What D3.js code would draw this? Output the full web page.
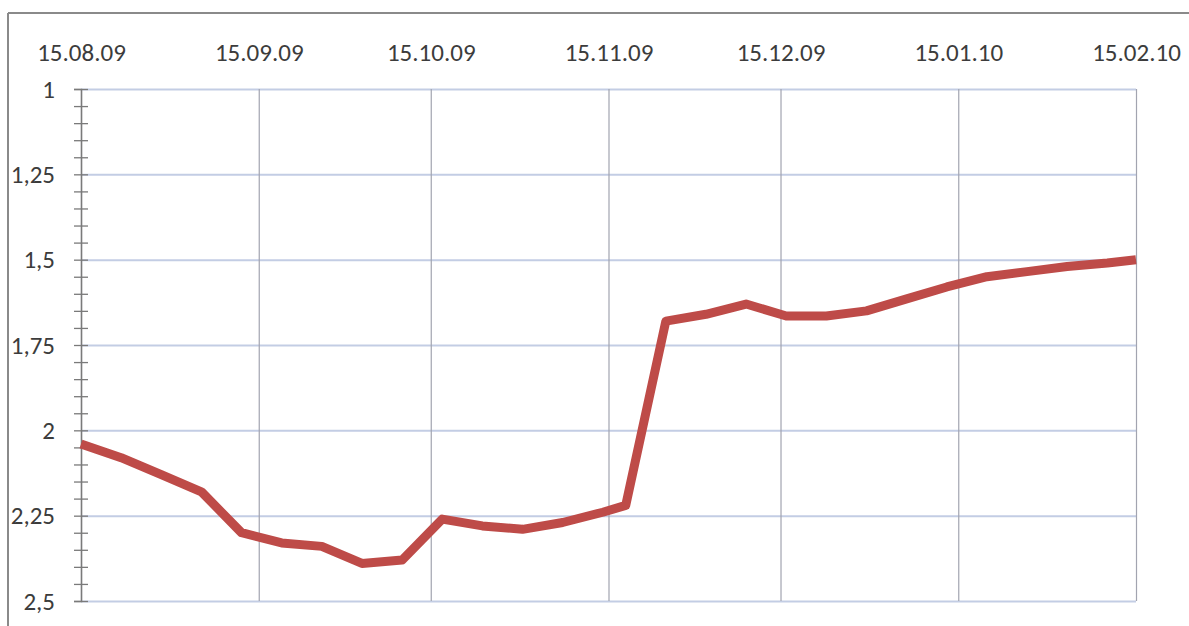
<!DOCTYPE html>
<html>
<head>
<meta charset="utf-8">
<script src="https://cdn.jsdelivr.net/npm/d3@7"></script>
<style>
  html, body { margin: 0; padding: 0; background: #ffffff; }
  svg { display: block; }
  .lbl text { font-family: Carlito, "Liberation Sans Narrow", "DejaVu Sans Condensed", sans-serif; fill: #3c3c3c; }
</style>
</head>
<body>
<svg id="chart" width="1189" height="626"></svg>
<script>
// ---- data ----
const dates = [
  "2009-08-15","2009-08-22","2009-08-29","2009-09-05","2009-09-12","2009-09-19","2009-09-26",
  "2009-10-03","2009-10-10","2009-10-17","2009-10-24","2009-10-31","2009-11-07","2009-11-14",
  "2009-11-18","2009-11-25","2009-12-02","2009-12-09","2009-12-16","2009-12-23","2009-12-30",
  "2010-01-06","2010-01-13","2010-01-20","2010-01-27","2010-02-03","2010-02-10","2010-02-15"
];
const values = [
  2.04, 2.08, 2.13, 2.18, 2.30, 2.33, 2.34,
  2.39, 2.38, 2.26, 2.28, 2.29, 2.27, 2.24,
  2.22, 1.68, 1.66, 1.63, 1.665, 1.665, 1.65,
  1.615, 1.58, 1.55, 1.535, 1.52, 1.51, 1.50
];
const xTickDates = ["2009-08-15","2009-09-15","2009-10-15","2009-11-15","2009-12-15","2010-01-15","2010-02-15"];
const xTickLabels = ["15.08.09","15.09.09","15.10.09","15.11.09","15.12.09","15.01.10","15.02.10"];
const yTickValues = [1, 1.25, 1.5, 1.75, 2, 2.25, 2.5];
const yTickLabels = ["1","1,25","1,5","1,75","2","2,25","2,5"];
const yMinorStep = 0.05;

// ---- layout ----
const W = 1189, H = 626;
const plot = { left: 81, right: 1136, top: 89, bottom: 601 };
const parse = d3.timeParse("%Y-%m-%d");

const svg = d3.select("#chart");

const x = d3.scaleTime()
  .domain([parse(xTickDates[0]), parse(xTickDates[xTickDates.length - 1])])
  .range([plot.left, plot.right]);
const y = d3.scaleLinear()
  .domain([1, 2.5])
  .range([plot.top, plot.bottom]);

// outer border (top and left edges visible)
svg.append("line").attr("x1", 8).attr("x2", W).attr("y1", 13).attr("y2", 13)
  .attr("stroke", "#8a8a8a").attr("stroke-width", 2);
svg.append("line").attr("x1", 8).attr("x2", 8).attr("y1", 13).attr("y2", H)
  .attr("stroke", "#8a8a8a").attr("stroke-width", 2);

// horizontal gridlines
const gy = svg.append("g").attr("transform", `translate(${plot.left},0)`)
  .call(d3.axisLeft(y).tickValues(yTickValues).tickSize(-(plot.right - plot.left)).tickFormat(""));
gy.select(".domain").remove();
gy.selectAll("line").attr("stroke", "#c3cde4").attr("stroke-width", 2);

// vertical gridlines
const gx = svg.append("g").attr("transform", `translate(0,${plot.top})`)
  .call(d3.axisTop(x).tickValues(xTickDates.map(parse)).tickSize(-(plot.bottom - plot.top)).tickFormat(""));
gx.select(".domain").remove();
gx.selectAll("line").attr("stroke", "#a2a4b0").attr("stroke-width", 1.2);

// minor + major ticks on left axis (crossing)
const minorVals = d3.range(0, Math.round((2.5 - 1) / yMinorStep) + 1).map(i => 1 + i * yMinorStep);
const gm = svg.append("g").attr("transform", `translate(${plot.left},0)`)
  .call(d3.axisLeft(y).tickValues(minorVals).tickSize(7).tickFormat(""));
gm.select(".domain").attr("stroke", "#7a7a7a").attr("stroke-width", 1.5);
gm.selectAll(".tick line").attr("x1", 7).attr("stroke", "#7a7a7a").attr("stroke-width", 1.3);

// y labels
const yl = svg.append("g").attr("class", "lbl").attr("transform", `translate(${plot.left},0)`)
  .call(d3.axisLeft(y).tickValues(yTickValues).tickSize(7).tickPadding(19)
    .tickFormat((d, i) => yTickLabels[i]));
yl.select(".domain").remove();
yl.selectAll("line").remove();
yl.selectAll("text").attr("font-size", 25).attr("font-family", null);

// x labels (top)
const xl = svg.append("g").attr("class", "lbl").attr("transform", `translate(0,${plot.top})`)
  .call(d3.axisTop(x).tickValues(xTickDates.map(parse)).tickSize(0).tickPadding(28)
    .tickFormat((d, i) => xTickLabels[i]));
xl.select(".domain").remove();
xl.selectAll("line").remove();
xl.selectAll("text").attr("font-size", 25).attr("font-family", null);

// data line
const pts = dates.map((d, i) => ({ date: parse(d), value: values[i] }));
svg.append("path")
  .datum(pts)
  .attr("fill", "none")
  .attr("stroke", "#be4b48")
  .attr("stroke-width", 9)
  .attr("stroke-linejoin", "round")
  .attr("d", d3.line().x(d => x(d.date)).y(d => y(d.value)));
</script>
</body>
</html>
